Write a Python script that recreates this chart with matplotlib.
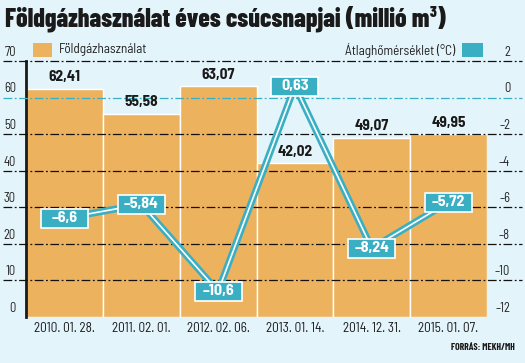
import matplotlib
matplotlib.use("Agg")
import matplotlib.pyplot as plt
from matplotlib.patches import Rectangle

# data
dates = ["2010. 01. 28.", "2011. 02. 01.", "2012. 02. 06.",
         "2013. 01. 14.", "2014. 12. 31.", "2015. 01. 07."]
gas_use = [62.41, 55.58, 63.07, 42.02, 49.07, 49.95]
avg_temp = [-6.6, -5.84, -10.6, 0.63, -8.24, -5.72]
gas_ticks = [0, 10, 20, 30, 40, 50, 60, 70]
temp_ticks = [-12, -10, -8, -6, -4, -2, 0, 2]

BG = "#e4f4fb"
ORANGE = "#edb25e"
TEAL = "#3aafc4"
FONT = ["Barlow Semi Condensed", "DejaVu Sans"]
TITLE_FONT = ["Barlow Condensed", "DejaVu Sans"]

plt.rcParams["font.family"] = FONT

W, H = 525, 363
fig = plt.figure(figsize=(W / 100, H / 100), dpi=100, facecolor=BG)

left, right, top, bottom = 26, 487, 61, 317
ax = fig.add_axes([left / W, 1 - bottom / H, (right - left) / W, (bottom - top) / H])
ax.set_facecolor(BG)
ax.set_xlim(-0.5, len(dates) - 0.5)
ax.set_ylim(0, 70)
for s in ["top", "right", "bottom"]:
    ax.spines[s].set_visible(False)
ax.spines["left"].set_linewidth(2)
ax.spines["left"].set_color("#1a1a1a")
ax.set_xticks([])
ax.set_yticks([])

x = list(range(len(dates)))
ax.bar(x, gas_use, width=1.0, color=ORANGE, edgecolor="white", linewidth=1, zorder=2)

# gridlines stretching across the whole figure
trans = ax.get_yaxis_transform()
x0 = (3 - left) / (right - left)
x1 = (522 - left) / (right - left)
for v in gas_ticks[1:]:
    col = TEAL if v == 60 else "#111111"
    ax.plot([x0, x1], [v, v], transform=trans, clip_on=False, color=col,
            lw=0.9, linestyle=(0, (7, 2, 1.5, 2)), zorder=3)

# tick labels (sit above the lines)
for v in gas_ticks:
    ax.text(-0.022, v + 0.6, str(v), transform=trans, ha="right", va="bottom",
            fontsize=9, color="#222222")

ax2 = ax.twinx()
ax2.set_ylim(-12, 2)
ax2.axis("off")
trans2 = ax2.get_yaxis_transform()
for v in temp_ticks:
    lab = str(v).replace("-", "\u2013")
    ax2.text(1.05, v + 0.12, lab, transform=trans2, ha="right", va="bottom",
             fontsize=9, color="#222222")

ax2.plot(x, avg_temp, color=TEAL, lw=5, solid_joinstyle="miter", zorder=4)
ax2.plot(x, avg_temp, color="white", lw=1.2, solid_joinstyle="miter", zorder=5)

bw, bh = 0.61, 1.04
for xi, t in zip(x, avg_temp):
    ax2.add_patch(Rectangle((xi - bw / 2, t - bh / 2), bw, bh, facecolor=TEAL,
                            edgecolor="white", lw=1.2, zorder=6))
    ax2.text(xi, t, f"{t:.2f}".rstrip("0").replace(".", ",").replace("-", "\u2013"),
             ha="center", va="center", color="white", fontsize=11.5,
             fontweight="bold", zorder=7)

for xi, g in zip(x, gas_use):
    ax.text(xi, g + 1.3, f"{g:.2f}".replace(".", ","), ha="center", va="bottom",
            fontsize=11, fontweight="bold", color="#1a1a1a", zorder=6)

for xi, d in zip(x, dates):
    ax.text(xi, -3.2, d, ha="center", va="center", fontsize=9.5, color="#1a1a1a")

# title
fig.text(5 / W, 1 - 19 / H, "Földgázhasználat éves csúcsnapjai (millió m³)",
         ha="left", va="center", fontsize=18.5, fontweight=800, color="#1a1a1a",
         family=TITLE_FONT)

# legend
fig.patches.append(Rectangle((33 / W, 1 - 57 / H), 19 / W, 14 / H, transform=fig.transFigure,
                             facecolor=ORANGE, edgecolor="none"))
fig.text(59 / W, 1 - 50 / H, "Földgázhasználat", ha="left", va="center",
         fontsize=9.5, color="#222222")
fig.patches.append(Rectangle((462 / W, 1 - 57 / H), 21 / W, 14 / H, transform=fig.transFigure,
                             facecolor=TEAL, edgecolor="none"))
fig.text(455 / W, 1 - 50 / H, "Átlaghőmérséklet (°C)", ha="right", va="center",
         fontsize=9.5, color="#222222")

fig.text(515 / W, 1 - 348 / H, "FORRÁS: MEKH/MH", ha="right", va="center",
         fontsize=7, fontweight="bold", color="#1a1a1a", family=TITLE_FONT)

fig.savefig("out.png", dpi=100, facecolor=BG)
